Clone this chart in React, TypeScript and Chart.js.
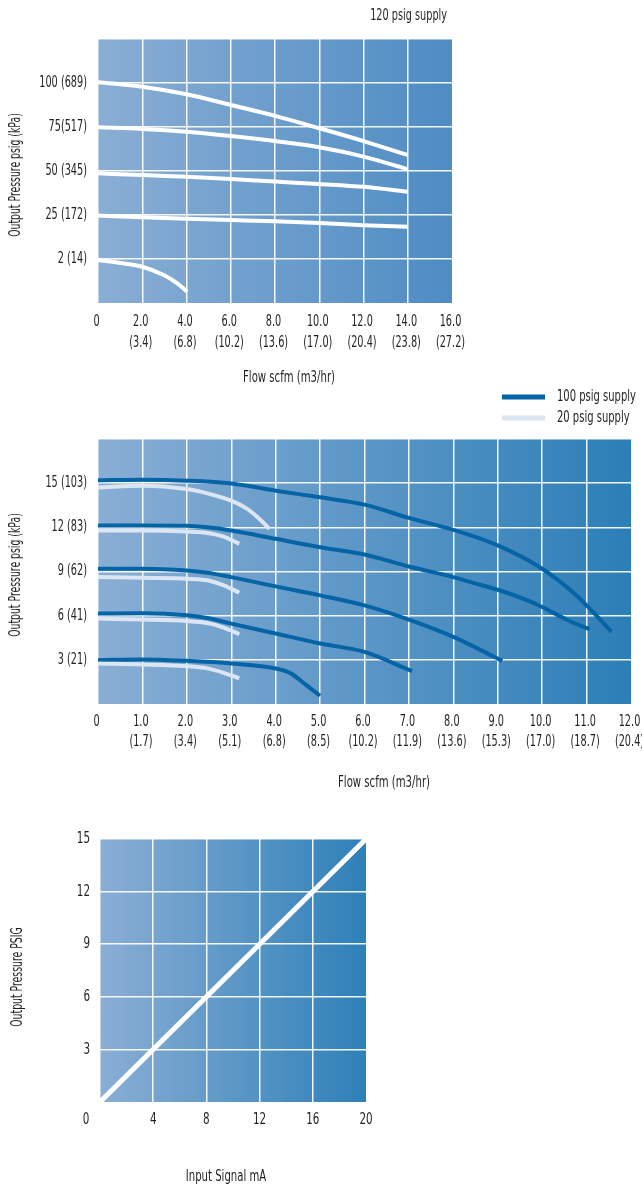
import React, { useEffect, useRef } from "react";
import { Chart, registerables } from "chart.js";

Chart.register(...registerables);

// ---------- Chart 1 data: 120 psig supply ----------
const flowTicks1 = [0, 2, 4, 6, 8, 10, 12, 14, 16];
const scfmLabels1 = ["0", "2.0", "4.0", "6.0", "8.0", "10.0", "12.0", "14.0", "16.0"];
const m3Labels1 = ["", "(3.4)", "(6.8)", "(10.2)", "(13.6)", "(17.0)", "(20.4)", "(23.8)", "(27.2)"];
const pressureTicks1 = [2, 25, 50, 75, 100];
const pressureLabels1 = ["2 (14)", "25 (172)", "50 (345)", "75(517)", "100 (689)"];

const flowA = [0, 2, 4, 6, 8, 10, 12, 14];
const out100 = [100.5, 97.9, 93.6, 87.5, 81.3, 74.3, 67, 59];
const out75 = [74.8, 73.9, 72.3, 69.9, 67, 63.5, 58.2, 51];
const out50 = [48.7, 47.7, 46.8, 45.5, 44, 42.6, 41, 38.2];
const out25 = [24.7, 23.8, 23.1, 22.4, 21.7, 20.8, 19.7, 18.9];
const flowB = [0, 1, 2, 2.97, 3.57, 4.03];
const out2 = [1.95, 1.82, 1.65, 1.27, 0.9, 0.51];

// ---------- Chart 2 data: 100 / 20 psig supply ----------
const flowTicks2 = [0, 1, 2, 3, 4, 5, 6, 7, 8, 9, 10, 11, 12];
const scfmLabels2 = ["0", "1.0", "2.0", "3.0", "4.0", "5.0", "6.0", "7.0", "8.0", "9.0", "10.0", "11.0", "12.0"];
const m3Labels2 = ["", "(1.7)", "(3.4)", "(5.1)", "(6.8)", "(8.5)", "(10.2)", "(11.9)", "(13.6)", "(15.3)", "(17.0)", "(18.7)", "(20.4)"];
const pressureTicks2 = [3, 6, 9, 12, 15];
const pressureLabels2 = ["3 (21)", "6 (41)", "9 (62)", "12 (83)", "15 (103)"];

const hi15x = [0, 1, 2, 3, 4, 5, 6, 7, 8, 9, 10, 10.73, 11.18, 11.56];
const hi15y = [15.2, 15.23, 15.17, 14.98, 14.49, 14.04, 13.54, 12.64, 11.83, 10.77, 9.19, 7.49, 6.14, 4.9];
const hi12x = [0, 1, 2, 2.46, 3, 4, 5, 6, 7, 8, 8.47, 9, 9.67, 10, 10.58, 11.07];
const hi12y = [12.12, 12.12, 12.1, 12.0, 11.78, 11.22, 10.65, 10.16, 9.34, 8.62, 8.21, 7.76, 7.04, 6.59, 5.69, 5.08];
const hi9x = [0, 1, 2, 2.46, 3, 4, 5, 6, 7, 8, 8.62, 9.1];
const hi9y = [9.19, 9.19, 9.07, 8.92, 8.62, 7.99, 7.38, 6.7, 5.73, 4.56, 3.66, 2.93];
const hi6x = [0, 1, 2, 2.46, 3, 4, 5, 6, 7.07];
const hi6y = [6.14, 6.16, 6.03, 5.84, 5.46, 4.79, 4.11, 3.54, 2.23];
const hi3x = [0, 1, 2, 3, 4, 4.34, 4.64, 5.0];
const hi3y = [2.98, 3.03, 2.93, 2.75, 2.41, 2.08, 1.4, 0.56];

const lo15x = [0, 1, 2, 2.46, 3, 3.36, 3.66, 3.86];
const lo15y = [14.71, 14.83, 14.6, 14.31, 13.81, 13.25, 12.5, 11.9];
const loX = [0, 1, 2, 2.46, 2.83, 3.18];
const lo12y = [11.78, 11.78, 11.71, 11.62, 11.37, 10.88];
const lo9y = [8.62, 8.57, 8.51, 8.4, 8.06, 7.56];
const lo6y = [5.8, 5.74, 5.64, 5.5, 5.19, 4.74];
const lo3y = [2.75, 2.69, 2.57, 2.42, 2.12, 1.74];

// ---------- Chart 3 data: input signal ----------
const signalTicks = [4, 8, 12, 16, 20];
const psigTicks = [3, 6, 9, 12, 15];
const signalMA = [0, 20];
const outputPSIG = [0, 15];

const FAMILY = "'DejaVu Sans Condensed', 'DejaVu Sans', sans-serif";
const SX = 0.72; // horizontal squeeze to imitate the very narrow original typeface
const TEXT = "#231f20";
const GRID = "rgba(255,255,255,0.92)";
const DARK = "#0564a6";
const LIGHT = "#dce6f2";
const WHITE = "#ffffff";

// map psig onto the evenly spaced rows of chart 1
function psigPos(p: number): number {
  if (p >= 25) return 2 + (p - 25) / 25;
  if (p >= 2) return 1 + (p - 2) / 23;
  return p / 2;
}

function pts(xs: number[], ys: number[], f: (v: number) => number = (v) => v) {
  return xs.map((x, i) => ({ x, y: f(ys[i]) }));
}

function lineDs(label: string, data: any[], color: string, width: number) {
  return {
    label,
    data,
    borderColor: color,
    backgroundColor: color,
    borderWidth: width,
    pointRadius: 0,
    fill: false,
    cubicInterpolationMode: "monotone" as const,
    borderCapStyle: "butt" as const,
    clip: 0,
  };
}

function bgPlugin(from: string, to: string) {
  return {
    id: "bgGradient",
    beforeDraw(chart: any) {
      const a = chart.chartArea;
      if (!a) return;
      const ctx = chart.ctx;
      const g = ctx.createLinearGradient(a.left, 0, a.right, 0);
      g.addColorStop(0, from);
      g.addColorStop(1, to);
      ctx.save();
      ctx.fillStyle = g;
      ctx.fillRect(a.left, a.top, a.right - a.left, a.bottom - a.top);
      ctx.restore();
    },
  };
}

function textPlugin(draw: (chart: any, ctx: CanvasRenderingContext2D) => void) {
  return {
    id: "freeText",
    afterDraw(chart: any) {
      const ctx = chart.ctx as CanvasRenderingContext2D;
      ctx.save();
      ctx.fillStyle = TEXT;
      draw(chart, ctx);
      ctx.restore();
    },
  };
}

function putText(ctx: CanvasRenderingContext2D, text: string, x: number, y: number, size: number, align: CanvasTextAlign = "center", rotate = false, sx = SX) {
  ctx.save();
  ctx.font = `${size}px ${FAMILY}`;
  ctx.fillStyle = TEXT;
  ctx.textAlign = align;
  ctx.textBaseline = "middle";
  ctx.translate(x, y);
  if (rotate) ctx.rotate(-Math.PI / 2);
  ctx.scale(sx, 1);
  ctx.fillText(text, 0, 0);
  ctx.restore();
}

function gridColor(skip: number[]) {
  return (c: any) => (c.tick && skip.includes(c.tick.value) ? "rgba(0,0,0,0)" : GRID);
}

function xScale(min: number, max: number, step: number, height: number) {
  return {
    type: "linear",
    min,
    max,
    border: { display: false },
    grid: { color: gridColor([max]), lineWidth: 1.5, drawTicks: false },
    ticks: { stepSize: step, autoSkip: false, display: false },
    afterFit: (s: any) => {
      s.height = height;
      s.paddingLeft = 0;
      s.paddingRight = 0;
    },
  };
}

function yScale(min: number, max: number, step: number, width: number) {
  return {
    type: "linear",
    min,
    max,
    border: { display: false },
    grid: { color: gridColor([min]), lineWidth: 1.5, drawTicks: false },
    ticks: { stepSize: step, autoSkip: false, display: false },
    afterFit: (s: any) => {
      s.width = width;
      s.paddingTop = 0;
      s.paddingBottom = 0;
    },
  };
}

const baseOptions = {
  animation: false,
  responsive: false,
  devicePixelRatio: 1,
  plugins: { legend: { display: false }, tooltip: { enabled: false } },
};

function config1(): any {
  return {
    type: "line",
    data: {
      datasets: [
        lineDs("100", pts(flowA, out100, psigPos), WHITE, 4),
        lineDs("75", pts(flowA, out75, psigPos), WHITE, 4),
        lineDs("50", pts(flowA, out50, psigPos), WHITE, 4),
        lineDs("25", pts(flowA, out25, psigPos), WHITE, 4),
        lineDs("2", pts(flowB, out2, psigPos), WHITE, 4),
      ],
    },
    options: {
      ...baseOptions,
      layout: { padding: { left: 0, right: 190, top: 39, bottom: 0 } },
      scales: { x: xScale(0, 16, 2, 87), y: yScale(0, 6, 1, 98) },
    },
    plugins: [
      bgPlugin("#8aaed5", "#4e8cc3"),
      textPlugin((chart, ctx) => {
        const a = chart.chartArea;
        const xs = chart.scales.x;
        const ys = chart.scales.y;
        flowTicks1.forEach((v, i) => {
          const px = xs.getPixelForValue(v) - 1.5;
          putText(ctx, scfmLabels1[i], px, a.bottom + 19, 15);
          if (m3Labels1[i]) putText(ctx, m3Labels1[i], px, a.bottom + 40, 15);
        });
        pressureTicks1.forEach((p, i) => {
          putText(ctx, pressureLabels1[i], a.left - 11, ys.getPixelForValue(psigPos(p)), 15, "right");
        });
        putText(ctx, "120 psig supply", 447, 16, 15, "right");
        putText(ctx, "Output Pressure psig (kPa)", 16, 175, 15, "center", true, 0.69);
        putText(ctx, "Flow scfm (m3/hr)", 289, 378, 15, "center", false, 0.75);
      }),
    ],
  };
}

function config2(): any {
  return {
    type: "line",
    data: {
      datasets: [
        lineDs("20 psig 15", pts(lo15x, lo15y), LIGHT, 4),
        lineDs("20 psig 12", pts(loX, lo12y), LIGHT, 4),
        lineDs("20 psig 9", pts(loX, lo9y), LIGHT, 4),
        lineDs("20 psig 6", pts(loX, lo6y), LIGHT, 4),
        lineDs("20 psig 3", pts(loX, lo3y), LIGHT, 4),
        lineDs("100 psig 15", pts(hi15x, hi15y), DARK, 4),
        lineDs("100 psig 12", pts(hi12x, hi12y), DARK, 4),
        lineDs("100 psig 9", pts(hi9x, hi9y), DARK, 4),
        lineDs("100 psig 6", pts(hi6x, hi6y), DARK, 4),
        lineDs("100 psig 3", pts(hi3x, hi3y), DARK, 4),
      ],
    },
    options: {
      ...baseOptions,
      layout: { padding: { left: 0, right: 11, top: 59, bottom: 0 } },
      scales: { x: xScale(0, 12, 1, 96), y: yScale(0, 18, 3, 98) },
    },
    plugins: [
      bgPlugin("#8aaed5", "#2c7eb7"),
      textPlugin((chart, ctx) => {
        const a = chart.chartArea;
        const xs = chart.scales.x;
        const ys = chart.scales.y;
        flowTicks2.forEach((v, i) => {
          const px = xs.getPixelForValue(v) - 1.5;
          putText(ctx, scfmLabels2[i], px, a.bottom + 18, 15);
          if (m3Labels2[i]) putText(ctx, m3Labels2[i], px, a.bottom + 38, 15);
        });
        pressureTicks2.forEach((v, i) => {
          putText(ctx, pressureLabels2[i], a.left - 11, ys.getPixelForValue(v), 15, "right");
        });
        const legendItems = [
          { label: "100 psig supply", color: DARK, y: 17 },
          { label: "20 psig supply", color: LIGHT, y: 38 },
        ];
        legendItems.forEach((it) => {
          ctx.fillStyle = it.color;
          ctx.fillRect(502, it.y - 2.5, 43, 5);
          putText(ctx, it.label, 557, it.y, 15, "left", false, 0.74);
        });
        putText(ctx, "Output Pressure psig (kPa)", 16, 195, 15, "center", true, 0.69);
        putText(ctx, "Flow scfm (m3/hr)", 384, 403, 15, "center", false, 0.75);
      }),
    ],
  };
}

function config3(): any {
  return {
    type: "line",
    data: {
      datasets: [lineDs("signal", pts(signalMA, outputPSIG), WHITE, 5)],
    },
    options: {
      ...baseOptions,
      layout: { padding: { left: 0, right: 276, top: 19, bottom: 0 } },
      scales: { x: xScale(0, 20, 4, 86), y: yScale(0, 15, 3, 100) },
    },
    plugins: [
      bgPlugin("#8aaed5", "#2e80b8"),
      textPlugin((chart, ctx) => {
        const a = chart.chartArea;
        const xs = chart.scales.x;
        const ys = chart.scales.y;
        signalTicks.forEach((v) => putText(ctx, String(v), xs.getPixelForValue(v), a.bottom + 18, 16));
        psigTicks.forEach((v) => putText(ctx, String(v), a.left - 10, ys.getPixelForValue(v), 16, "right"));
        putText(ctx, "0", a.left - 14, a.bottom + 18, 16);
        putText(ctx, "Output Pressure PSIG", 18, 157, 15, "center", true, 0.69);
        putText(ctx, "Input Signal mA", 226, 357, 15, "center", false, 0.75);
      }),
    ],
  };
}

function ChartCanvas({ top, height, build }: { top: number; height: number; build: () => any }) {
  const ref = useRef<HTMLCanvasElement | null>(null);
  useEffect(() => {
    if (!ref.current) return;
    const chart = new Chart(ref.current, build());
    return () => chart.destroy();
  }, [build]);
  return (
    <canvas
      ref={ref}
      width={642}
      height={height}
      style={{ position: "absolute", left: 0, top, width: 642, height, display: "block" }}
    />
  );
}

export default function App() {
  return (
    <div style={{ position: "absolute", left: 0, top: 0, width: 642, height: 1188, background: "#ffffff", overflow: "hidden" }}>
      <ChartCanvas top={0} height={390} build={config1} />
      <ChartCanvas top={380} height={420} build={config2} />
      <ChartCanvas top={820} height={368} build={config3} />
    </div>
  );
}
